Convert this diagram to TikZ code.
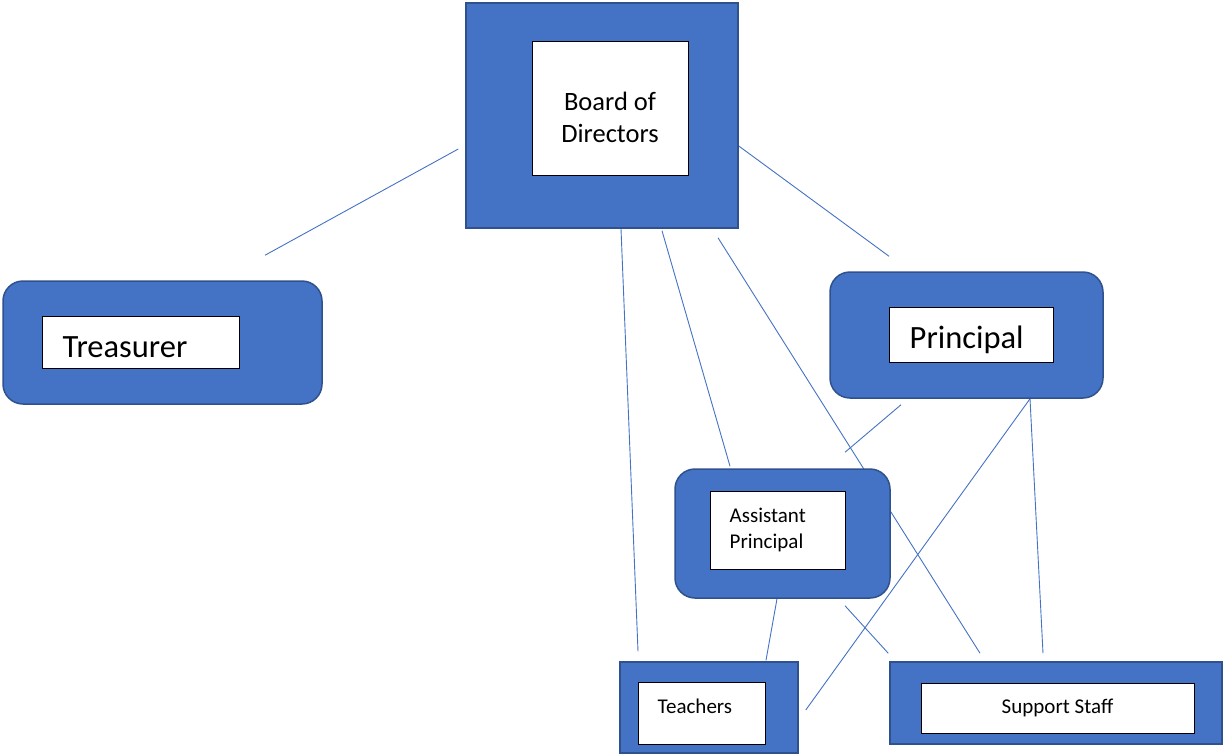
\documentclass[tikz,border=0pt]{standalone}
\usepackage{fontspec}
\setmainfont{Carlito}
\usetikzlibrary{positioning, calc, backgrounds}
\definecolor{boxblue}{HTML}{4472C4}
\definecolor{edgeblue}{HTML}{2F528F}

\begin{document}
\begin{tikzpicture}[x=1pt, y=-1pt,
    outerbox/.style={rectangle, draw=edgeblue, fill=boxblue, line width=1.5pt, inner sep=0pt},
    roundbox/.style={outerbox, rounded corners=20pt},
    innerbox/.style={rectangle, draw=black, fill=white, line width=1pt, inner sep=0pt},
    link/.style={draw=boxblue, line width=0.9pt},
    txt/.style={inner sep=0pt, align=left, font=\fontsize{21}{25.5}\selectfont},
    bigtxt/.style={inner sep=0pt, font=\fontsize{32.5}{39}\selectfont}]

    \useasboundingbox (0,0) rectangle (1223,755);

    % Board on top
    \node[outerbox, minimum width=272pt, minimum height=225pt] (board) at (602,115.5) {};
    \node[innerbox, minimum width=156pt, minimum height=134pt] (boardin) at (610,108) {};
    \node[inner sep=0pt, align=center, font=\fontsize{26.5}{32}\selectfont] (boardtxt)
        at ($(boardin)+(0,9)$) {Board of\\Directors};

    % Second row
    \node[roundbox, minimum width=319pt, minimum height=123pt] (treas) at (162.5,342.5) {};
    \node[innerbox, minimum width=197pt, minimum height=52pt] (treasin) at (140.5,342) {};
    \node[bigtxt, anchor=west] (treastxt) at ($(treasin.west)+(21,5)$) {Treasurer};

    \node[roundbox, minimum width=273pt, minimum height=126pt] (princ) at (966.5,335) {};
    \node[innerbox, minimum width=164pt, minimum height=55pt] (princin) at (971,334.5) {};
    \node[bigtxt, anchor=west] (princtxt) at ($(princin.west)+(21,5.5)$) {Principal};

    % Assistant
    \node[roundbox, minimum width=215pt, minimum height=129pt] (asst) at (782.5,533.5) {};
    \node[innerbox, minimum width=135pt, minimum height=78pt] (asstin) at (777.5,530) {};
    \node[txt, anchor=west] (assttxt) at ($(asstin.west)+(20,0)$) {Assistant\\Principal};

    % Bottom row
    \node[outerbox, minimum width=178pt, minimum height=91pt] (teach) at (709,707.5) {};
    \node[innerbox, minimum width=127pt, minimum height=62pt] (teachin) at (701.5,713) {};
    \node[txt, anchor=west] (teachtxt) at ($(teachin.west)+(20,-7)$) {Teachers};

    \node[outerbox, minimum width=332pt, minimum height=82pt] (staff) at (1056,703) {};
    \node[innerbox, minimum width=273pt, minimum height=50pt] (staffin) at (1057.5,708) {};
    \node[txt] (stafftxt) at (staffin) {Support Staff};

    % Connecting lines, behind the boxes
    \begin{scope}[on background layer]
        \draw[link] ($(board.west)+(-7,33.5)$) -- ($(treas.north)+(102.5,-25)$);
        \draw[link] ($(board.east)+(0,30.5)$) -- ($(princ.north)+(-77.5,-15)$);
        \draw[link] ($(board.south)+(19,0)$) -- ($(teach.north)+(-71,-10)$);
        \draw[link] ($(board.south)+(60,2)$) -- ($(asst.north)+(-52.5,-2)$);
        \draw[link] ($(board.south)+(116,9)$) -- ($(staff.north)+(-76,-8)$);
        \draw[link] ($(princ.south)+(-65.5,6)$) -- ($(asst.north)+(62.5,-16)$);
        \draw[link] ($(princ.south)+(63.5,0)$) -- ($(teach.east)+(7,2.5)$);
        \draw[link] ($(princ.south)+(63.5,0)$) -- ($(staff.north)+(-13,-8)$);
        \draw[link] ($(asst.south)+(-5.5,0)$) -- ($(teach.north)+(57,-1)$);
        \draw[link] ($(asst.south)+(62.5,7)$) -- ($(staff.north west)+(-1,-8)$);
    \end{scope}

\end{tikzpicture}
\end{document}
